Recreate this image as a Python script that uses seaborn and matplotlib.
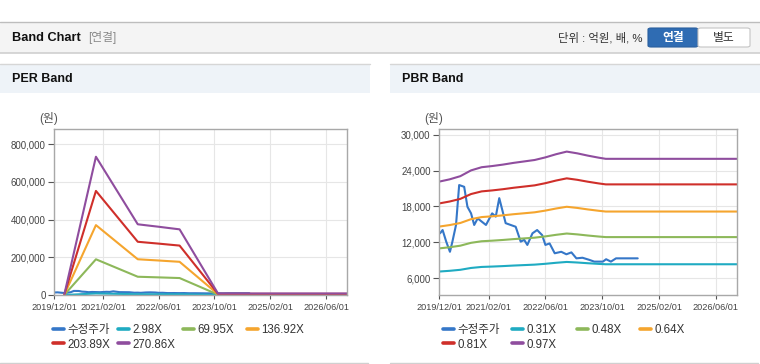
import matplotlib
matplotlib.use("Agg")
import matplotlib.pyplot as plt
import matplotlib.dates as mdates
from matplotlib.patches import Rectangle, FancyBboxPatch
from matplotlib.lines import Line2D
from matplotlib.ticker import FuncFormatter, FixedLocator
import seaborn as sns
import pandas as pd

sns.set_style("white")
plt.rcParams['font.family'] = ['Liberation Sans', 'Noto Sans CJK KR', 'DejaVu Sans']

# ---------------- data ----------------
price_dates = ['2019-12-10', '2020-01-01', '2020-02-01', '2020-03-04', '2020-03-25', '2020-04-25',
               '2020-05-22', '2020-07-04', '2020-08-01', '2020-09-01', '2020-09-28', '2020-10-28',
               '2021-01-07', '2021-03-01', '2021-04-01', '2021-05-01', '2021-06-25', '2021-09-19',
               '2021-11-01', '2021-12-01', '2021-12-28', '2022-02-10', '2022-03-22', '2022-05-04',
               '2022-06-01', '2022-07-07', '2022-08-20', '2022-10-15', '2022-11-28', '2023-01-10',
               '2023-02-22', '2023-04-15', '2023-06-12', '2023-07-25', '2023-10-07', '2023-11-04',
               '2023-12-15', '2024-01-28', '2024-08-01']
price = [13500, 14050, 12100, 10400, 12100, 14900,
         21600, 21300, 17950, 16850, 14900, 16000,
         14900, 16850, 16300, 19400, 15200, 14600,
         12100, 12400, 11550, 13500, 14050, 13200,
         11550, 11800, 10150, 10400, 9980, 10300,
         9300, 9400, 9050, 8750, 8750, 9150,
         8750, 9300, 9300]

eps_dates = ['2020-03-01', '2020-12-01', '2021-12-01', '2022-03-01', '2022-06-01',
             '2022-09-01', '2022-12-01', '2023-11-01', '2026-12-01']
eps = [20, 2706, 1384, 1360, 1336, 1310, 1285, 30, 30]
per_multiples = [2.98, 69.95, 136.92, 203.89, 270.86]
per_labels = ['2.98X', '69.95X', '136.92X', '203.89X', '270.86X']

bps_dates = ['2019-12-01', '2020-03-01', '2020-06-01', '2020-09-01', '2020-12-01', '2021-03-01',
             '2021-06-01', '2021-09-01', '2021-12-01', '2022-03-01', '2022-06-01', '2022-09-01',
             '2022-12-01', '2023-03-01', '2023-06-01', '2023-09-01', '2023-11-01', '2026-12-01']
bps = [22850, 23250, 23800, 24800, 25350, 25550,
       25800, 26100, 26350, 26600, 27050, 27600,
       28050, 27750, 27350, 27000, 26800, 26800]
pbr_multiples = [0.31, 0.48, 0.64, 0.81, 0.97]
pbr_labels = ['0.31X', '0.48X', '0.64X', '0.81X', '0.97X']

price_label = '수정주가'
band_colors = ['#1fabc2', '#8db85a', '#f5a52e', '#cf2f2a', '#8f4d9e']
price_color = '#3577c8'

x_ticks = ['2019/12/01', '2021/02/01', '2022/06/01', '2023/10/01', '2025/02/01', '2026/06/01']
per_yticks = [0, 200000, 400000, 600000, 800000]
pbr_yticks = [6000, 12000, 18000, 24000, 30000]


def build_df(band_dates, base, multiples, labels):
    rows = [pd.DataFrame({'date': pd.to_datetime(price_dates), 'value': price, 'series': price_label})]
    for m, lab in zip(multiples, labels):
        rows.append(pd.DataFrame({'date': pd.to_datetime(band_dates),
                                  'value': [b * m for b in base], 'series': lab}))
    return pd.concat(rows, ignore_index=True)


W, H = 760, 364
fig = plt.figure(figsize=(W / 100, H / 100), dpi=100)
fig.patch.set_facecolor('white')


def fx(px):
    return px / W


def fy(py):
    return 1 - py / H


# ---------------- header ----------------
fig.patches.append(Rectangle((0, fy(53)), 1, fy(22) - fy(53), transform=fig.transFigure,
                             facecolor='#f4f4f4', edgecolor='none', zorder=0))
fig.add_artist(Line2D([0, 1], [fy(22), fy(22)], transform=fig.transFigure, color='#bdbdbd', lw=1))
fig.add_artist(Line2D([0, 1], [fy(53), fy(53)], transform=fig.transFigure, color='#cfcfcf', lw=1.2))
fig.text(fx(12), fy(38), 'Band Chart', fontsize=9.2, fontweight='bold', color='#111111', va='center')
fig.text(fx(88), fy(38), '[연결]', fontsize=8.5, color='#8a8a8a', va='center')
fig.text(fx(642), fy(38), '단위 : 억원, 배, %', fontsize=8.2, color='#333333', va='center', ha='right')
fig.patches.append(FancyBboxPatch((fx(648), fy(47)), fx(50), fy(28) - fy(47),
                                  boxstyle='round,pad=0,rounding_size=0.004', transform=fig.transFigure,
                                  facecolor='#2f6cb3', edgecolor='#2a5f9e', lw=0.8))
fig.patches.append(FancyBboxPatch((fx(698), fy(47)), fx(52), fy(28) - fy(47),
                                  boxstyle='round,pad=0,rounding_size=0.004', transform=fig.transFigure,
                                  facecolor='white', edgecolor='#c4c4c4', lw=0.8))
fig.text(fx(673), fy(37.5), '연결', fontsize=8.5, fontweight='bold', color='white', va='center', ha='center')
fig.text(fx(724), fy(37.5), '별도', fontsize=8.5, color='#333333', va='center', ha='center')

# ---------------- panels ----------------
for (x0, x1, title) in [(0, 370, 'PER Band'), (390, 760, 'PBR Band')]:
    fig.patches.append(Rectangle((fx(x0), fy(93)), fx(x1 - x0), fy(64) - fy(93), transform=fig.transFigure,
                                 facecolor='#eef3f8', edgecolor='none', zorder=0))
    fig.add_artist(Line2D([fx(x0), fx(x1)], [fy(64), fy(64)], transform=fig.transFigure, color='#d6d6d6', lw=1))
    fig.add_artist(Line2D([fx(x0), fx(x1 - 2)], [fy(362.5), fy(362.5)], transform=fig.transFigure,
                          color='#d0d0d0', lw=1))
    fig.text(fx(x0 + 12), fy(79), title, fontsize=9, fontweight='bold', color='#111111', va='center')


def style_axes(ax, ylim, yticks, unit_x):
    ax.set_xlim(pd.Timestamp('2019-12-01'), pd.Timestamp('2026-12-01'))
    ax.set_ylim(*ylim)
    tick_dates = [pd.Timestamp(t.replace('/', '-')) for t in x_ticks]
    ax.xaxis.set_major_locator(FixedLocator(mdates.date2num(tick_dates)))
    ax.set_xticklabels(x_ticks)
    ax.set_yticks(yticks)
    ax.yaxis.set_major_formatter(FuncFormatter(lambda v, p: f'{int(v):,}'))
    ax.grid(True, color='#e6e6e6', lw=0.8)
    ax.set_axisbelow(True)
    for s in ax.spines.values():
        s.set_color('#a8a8a8')
        s.set_linewidth(1)
        s.set_visible(True)
    ax.tick_params(axis='y', labelsize=7, colors='#555555', length=4, width=0.8, pad=2, direction='out',
                   left=True)
    ax.tick_params(axis='x', labelsize=6.6, colors='#555555', length=3, width=0.8, pad=3, bottom=True)
    for lab in ax.get_xticklabels() + ax.get_yticklabels():
        lab.set_color('#444444')
    ax.set_xlabel('')
    ax.set_ylabel('')
    fig.text(fx(unit_x), fy(119), '(원)', fontsize=8.5, color='#555555', ha='center', va='center')


def draw_legend(labels, colors, xs):
    rows_y = [330, 344.5]
    for i, (lab, col) in enumerate(zip(labels, colors)):
        r, c = divmod(i, 4)
        h = Line2D([], [], color=col, lw=2.6)
        fig.legend(handles=[h], labels=[lab], loc='center left',
                   bbox_to_anchor=(fx(xs[c]), fy(rows_y[r])), bbox_transform=fig.transFigure,
                   frameon=False, fontsize=8.3, handlelength=0.95, handletextpad=0.3,
                   borderpad=0, borderaxespad=0, labelcolor='#333333')


# ---------------- PER chart ----------------
ax1 = fig.add_axes([fx(54), fy(295), fx(347 - 54), fy(129) - fy(295)])
df1 = build_df(eps_dates, eps, per_multiples, per_labels)
order1 = [price_label] + per_labels
pal1 = dict(zip(order1, [price_color] + band_colors))
sns.lineplot(data=df1, x='date', y='value', hue='series', hue_order=order1, palette=pal1,
             linewidth=1.5, legend=False, ax=ax1, estimator=None, sort=True)
style_axes(ax1, (0, 880000), per_yticks, 48.5)
draw_legend(order1, [price_color] + band_colors, [53, 118, 183, 247])

# ---------------- PBR chart ----------------
ax2 = fig.add_axes([fx(439), fy(295), fx(737 - 439), fy(129) - fy(295)])
df2 = build_df(bps_dates, bps, pbr_multiples, pbr_labels)
order2 = [price_label] + pbr_labels
pal2 = dict(zip(order2, [price_color] + band_colors))
sns.lineplot(data=df2, x='date', y='value', hue='series', hue_order=order2, palette=pal2,
             linewidth=1.5, legend=False, ax=ax2, estimator=None, sort=True)
style_axes(ax2, (3150, 31000), pbr_yticks, 433.5)
draw_legend(order2, [price_color] + band_colors, [443, 512, 577, 640])

fig.savefig('out.png', dpi=100, facecolor='white')
